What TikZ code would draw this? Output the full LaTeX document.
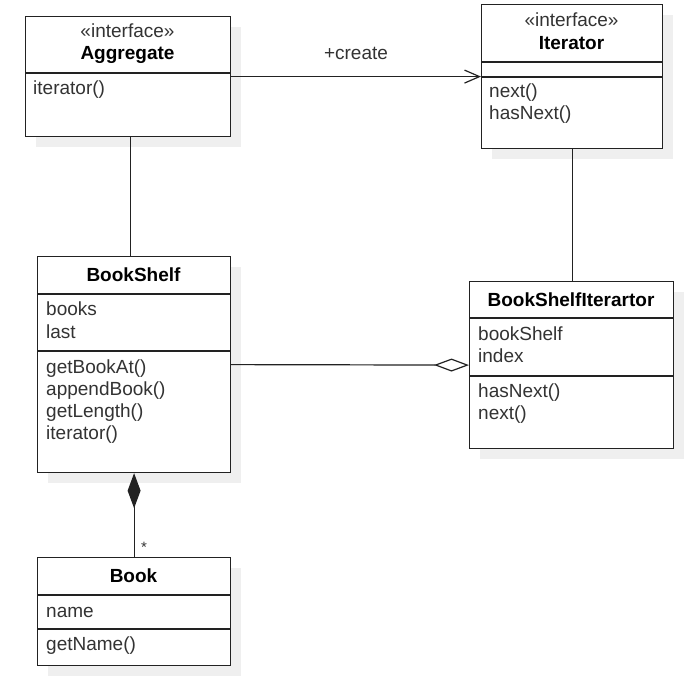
\documentclass[tikz,border=0pt]{standalone}
\usepackage{fontspec}
\setmainfont{Liberation Sans}
\usetikzlibrary{arrows.meta,shadows}
\definecolor{linec}{HTML}{222222}
\definecolor{txtc}{HTML}{333333}
\definecolor{shadowc}{HTML}{EFEFEF}
\begin{document}
\fontsize{19}{22}\selectfont
\begin{tikzpicture}[x=1pt,y=-1pt,
  classbox/.style={draw=linec, line width=1.2pt, fill=white, inner sep=0pt, anchor=north west,
    drop shadow={shadow xshift=10pt, shadow yshift=-10pt, opacity=1, fill=shadowc}},
  sepline/.style={draw=linec, line width=1.2pt},
  conn/.style={draw=linec, line width=1.2pt},
  title/.style={font=\bfseries, text=black, anchor=base, inner sep=0pt},
  stereo/.style={text=txtc, anchor=base, inner sep=0pt},
  member/.style={text=txtc, anchor=base west, inner sep=0pt},
  lbl/.style={text=txtc, inner sep=0pt}
]
\useasboundingbox (0,0) rectangle (688,676);

% ---- class boxes ----
\node[classbox, minimum width=205pt, minimum height=120pt] (agg) at (25,16) {};
\node[classbox, minimum width=181pt, minimum height=144pt] (itr) at (481,4) {};
\node[classbox, minimum width=193pt, minimum height=216pt] (bs) at (37,256) {};
\node[classbox, minimum width=204pt, minimum height=167pt] (bsi) at (469,281) {};
\node[classbox, minimum width=193pt, minimum height=108pt] (book) at (37,557) {};

% ---- separators ----
\draw[sepline] (agg.west |- 0,73) -- (agg.east |- 0,73);
\draw[sepline] (itr.west |- 0,62) -- (itr.east |- 0,62);
\draw[sepline] (itr.west |- 0,77) -- (itr.east |- 0,77);
\draw[sepline] (bs.west |- 0,294) -- (bs.east |- 0,294);
\draw[sepline] (bs.west |- 0,351) -- (bs.east |- 0,351);
\draw[sepline] (bsi.west |- 0,318) -- (bsi.east |- 0,318);
\draw[sepline] (bsi.west |- 0,376) -- (bsi.east |- 0,376);
\draw[sepline] (book.west |- 0,595) -- (book.east |- 0,595);
\draw[sepline] (book.west |- 0,629) -- (book.east |- 0,629);

% ---- texts ----
\node[stereo] (aggS) at (127.5,38) {«interface»};
\node[title] (aggT) at (127.5,60) {Aggregate};
\node[member] (aggM1) at (33,95) {iterator()};

\node[stereo] (itrS) at (571.5,27) {«interface»};
\node[title] (itrT) at (571.5,50) {Iterator};
\node[member] (itrM1) at (489,98) {next()};
\node[member] (itrM2) at (489,120) {hasNext()};

\node[title] (bsT) at (133.5,282) {BookShelf};
\node[member] (bsA1) at (46,316) {books};
\node[member] (bsA2) at (46,338) {last};
\node[member] (bsM1) at (46,373) {getBookAt()};
\node[member] (bsM2) at (46,395) {appendBook()};
\node[member] (bsM3) at (46,417) {getLength()};
\node[member] (bsM4) at (46,439) {iterator()};

\node[title] (bsiT) at (571,306) {BookShelfIterartor};
\node[member] (bsiA1) at (478,340) {bookShelf};
\node[member] (bsiA2) at (478,362) {index};
\node[member] (bsiM1) at (478,397) {hasNext()};
\node[member] (bsiM2) at (478,419) {next()};

\node[title] (bookT) at (133.5,582) {Book};
\node[member] (bookA1) at (46,617) {name};
\node[member] (bookM1) at (46,650) {getName()};

% ---- connectors ----
\draw[conn, -{Straight Barb[length=15pt, width=13pt, line width=1.2pt]}] (agg.east) -- (itr.west);
\node[lbl] (create) at (356,53) {+create};

\draw[conn] ([xshift=2.5pt]agg.south) -- ([xshift=-3.5pt]bs.north);
\draw[conn] (itr.south) -- (itr.south |- bsi.north);

\draw[conn, -{Diamond[open, fill=white, length=35pt, width=13pt, line width=1.2pt]}] (bs.east) -- (bsi.west);

\draw[conn, -{Diamond[fill=linec, length=35pt, width=13pt, line width=1.2pt]}] (book.north) -- (bs.south);
\node[lbl, font=\fontsize{15}{18}\selectfont] (mult) at (144,547) {*};
\end{tikzpicture}
\end{document}
